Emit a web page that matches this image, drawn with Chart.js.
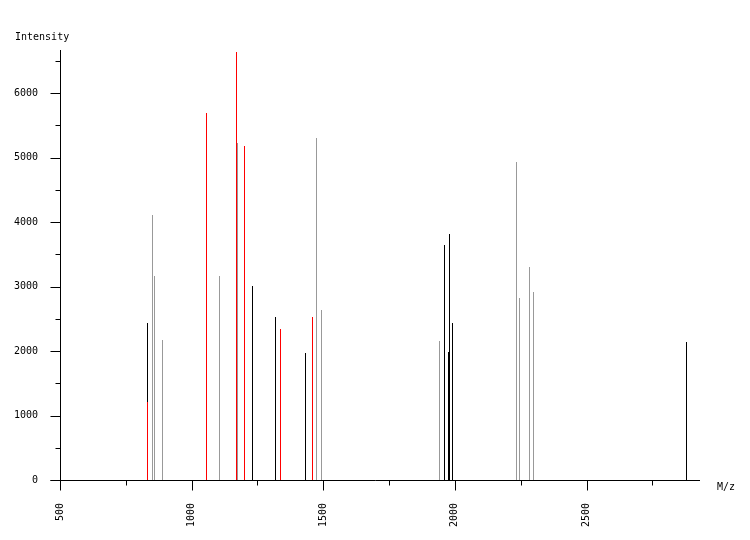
<!DOCTYPE html>
<html><head><meta charset="utf-8">
<script src="https://cdn.jsdelivr.net/npm/chart.js@4/dist/chart.umd.min.js"></script>
<style>html,body{margin:0;padding:0;background:#fff}#wrap{width:750px;height:540px}</style>
</head><body><div id="wrap"><canvas id="c" width="750" height="540"></canvas></div>
<script>
const xTickLabels = ['500', '1000', '1500', '2000', '2500'];
const yTickLabels = ['0', '1000', '2000', '3000', '4000', '5000', '6000'];

const blackMz = [833.8, 1233, 1316.7, 1430.7, 1959, 1974.5, 1979.7, 1989.7, 2879];
const blackIntensity = [2430, 3008, 2527, 1969, 3643, 1984, 3814, 2429, 2140];

const redMz = [833.8, 1055.8, 1172, 1199, 1335.7, 1461];
const redIntensity = [1214, 5690, 6636, 5178, 2341, 2527];

const grayMz = [852.8, 860, 891, 1104, 1176, 1472.6, 1491.6, 1940, 2233, 2244, 2246.5, 2282, 2297.6];
const grayIntensity = [4109, 3163, 2171, 3163, 5220, 5297, 2636, 2155, 4930, 2822, 2129, 3302, 2915];

function toSegments(mz, inten) {
  const out = [];
  mz.forEach((m, i) => { out.push({x: m, y: 0}, {x: m, y: inten[i]}, {x: m, y: null}); });
  return out;
}

const FONT = 'DejaVu Sans Mono';

// snap the library-computed point positions to pixel centres for crisp 1px sticks
const snapPlugin = {
  id: 'snapPlugin',
  beforeDatasetsDraw(chart) {
    chart.data.datasets.forEach((ds, i) => {
      const meta = chart.getDatasetMeta(i);
      meta.data.forEach(pt => {
        if (pt.skip) return;
        pt.x = Math.floor(pt.x) + 0.5;
        pt.y = Math.round(pt.y);
      });
    });
  }
};

const axesPlugin = {
  id: 'axesPlugin',
  afterDraw(chart) {
    const ctx = chart.ctx;
    const xs = chart.scales.x, ys = chart.scales.y;
    const a = chart.chartArea;
    ctx.save();
    ctx.strokeStyle = '#000';
    ctx.lineWidth = 1;
    const by = Math.round(ys.getPixelForValue(0)) + 0.5;
    const lx = Math.round(xs.getPixelForValue(500)) + 0.5;
    ctx.beginPath();
    ctx.moveTo(lx - 10, by); ctx.lineTo(Math.round(a.right), by);
    ctx.moveTo(lx, by); ctx.lineTo(lx, Math.round(a.top));
    for (let v = 500; v <= xs.max; v += 250) {
      const px = Math.round(xs.getPixelForValue(v)) + 0.5;
      const len = (v % 500 === 0) ? 10 : 5;
      ctx.moveTo(px, by); ctx.lineTo(px, by + len);
    }
    for (let v = 0; v <= ys.max; v += 500) {
      const py = Math.round(ys.getPixelForValue(v)) + 0.5;
      const len = (v % 1000 === 0) ? 10 : 5;
      ctx.moveTo(lx, py); ctx.lineTo(lx - len, py);
    }
    ctx.stroke();
    ctx.fillStyle = '#000';
    ctx.font = '10px "' + FONT + '"';
    ctx.textBaseline = 'middle';
    ctx.textAlign = 'left';
    ctx.fillText('Intensity', 15, 37);
    ctx.fillText('M/z', 717, 487);
    ctx.restore();
  }
};

new Chart(document.getElementById('c'), {
  type: 'line',
  data: {
    datasets: [
      {label: 'red', data: toSegments(redMz, redIntensity), borderColor: '#ff0000', order: 0},
      {label: 'black', data: toSegments(blackMz, blackIntensity), borderColor: '#000000', order: 1},
      {label: 'gray', data: toSegments(grayMz, grayIntensity), borderColor: '#999999', order: 2}
    ]
  },
  options: {
    responsive: false,
    animation: false,
    devicePixelRatio: 1,
    spanGaps: false,
    elements: {line: {borderWidth: 1, tension: 0, borderCapStyle: 'butt'}, point: {radius: 0, hoverRadius: 0}},
    layout: {padding: {top: 50, right: 50, left: 0, bottom: 0}},
    plugins: {legend: {display: false}, tooltip: {enabled: false}},
    events: [],
    scales: {
      x: {
        type: 'linear', min: 500, max: 2931,
        afterFit: s => { s.height = 60; },
        afterBuildTicks: s => { s.ticks = xTickLabels.map(v => ({value: +v})); },
        grid: {display: false, drawTicks: false},
        border: {display: false},
        ticks: {autoSkip: false, minRotation: 90, maxRotation: 90, padding: 23, color: '#000',
                font: {family: FONT, size: 10}, callback: v => String(v)}
      },
      y: {
        type: 'linear', min: 0, max: 6667,
        afterFit: s => { s.width = 60; },
        afterBuildTicks: s => { s.ticks = yTickLabels.map(v => ({value: +v})); },
        grid: {display: false, drawTicks: false},
        border: {display: false},
        ticks: {padding: 22, color: '#000', font: {family: FONT, size: 10}, callback: v => String(v)}
      }
    }
  },
  plugins: [snapPlugin, axesPlugin]
});
</script>
</body></html>
